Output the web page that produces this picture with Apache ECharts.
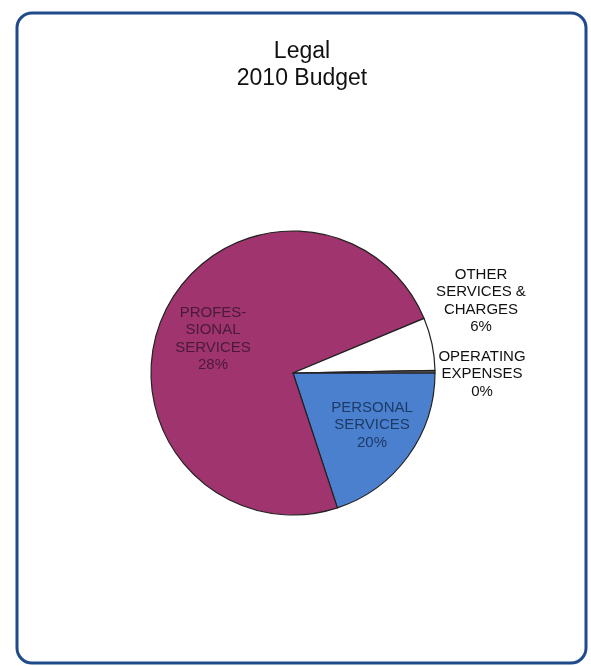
<!DOCTYPE html>
<html>
<head>
<meta charset="utf-8">
<script src="https://cdn.jsdelivr.net/npm/echarts@6/dist/echarts.min.js"></script>
<style>
html,body{margin:0;padding:0;background:#fff;}
#c{width:591px;height:666px;}
</style>
</head>
<body>
<div id="c"></div>
<script>
// Data
const titleLines = ['Legal', '2010 Budget'];
const categories = ['PERSONAL\nSERVICES', 'PROFES-\nSIONAL\nSERVICES', 'OTHER\nSERVICES &\nCHARGES', 'OPERATING\nEXPENSES'];
const values = [20, 74, 6, 0.3];
const pctLabels = ['20%', '28%', '6%', '0%'];

const colors = ['#4b80cf', '#a0346e', '#ffffff', '#555555'];
const textColors = ['#1c3a66', '#4a1a38', '#111111', '#111111'];
// label anchor positions (label layout only)
const labelPos = [[372, 425], [213, 339], [481, 301], [482, 374]];

const chart = echarts.init(document.getElementById('c'), null, {renderer: 'canvas'});
chart.setOption({
  backgroundColor: '#ffffff',
  animation: false,
  title: {
    text: titleLines.join('\n'),
    left: 297, top: 33, textAlign: 'center',
    textStyle: {fontFamily: 'Liberation Sans, Arial', fontSize: 23, fontWeight: 'normal', color: '#111111', lineHeight: 27}
  },
  graphic: [{
    type: 'rect', silent: true, z: -1,
    shape: {x: 17, y: 13, width: 569, height: 650, r: 15},
    style: {fill: '#ffffff', stroke: '#1f4b8c', lineWidth: 3}
  }],
  series: [{
    type: 'pie',
    center: [293, 373],
    radius: 142,
    startAngle: 0,
    clockwise: true,
    minAngle: 0,
    avoidLabelOverlap: false,
    itemStyle: {borderColor: '#222', borderWidth: 1.2},
    label: {
      show: true, position: 'inside',
      fontFamily: 'Liberation Sans, Arial', fontSize: 15, lineHeight: 17.5,
      align: 'center'
    },
    labelLine: {show: false},
    labelLayout: function (p) {
      const pos = labelPos[p.dataIndex];
      return {x: pos[0], y: pos[1], align: 'center', verticalAlign: 'middle'};
    },
    data: categories.map((c, i) => ({
      name: c,
      value: values[i],
      itemStyle: {color: colors[i]},
      label: {
        formatter: c + '\n' + pctLabels[i],
        color: textColors[i]
      }
    }))
  }]
});
</script>
</body>
</html>
